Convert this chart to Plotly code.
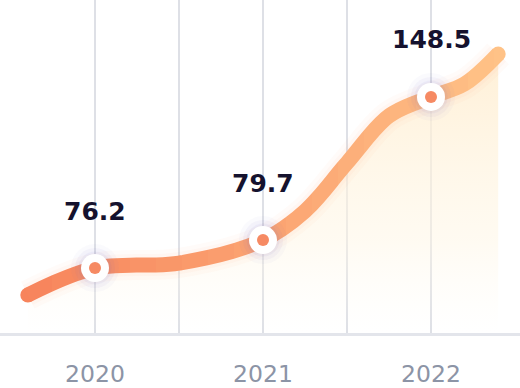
import plotly.graph_objects as go

# ---------------- data ----------------
years = [2020, 2021, 2022]
values = [76.2, 79.7, 148.5]
tick_vals = [2020, 2020.5, 2021, 2021.5, 2022]
tick_text = ["2020", "", "2021", "", "2022"]

# smooth trend curve (relative height, 0-100 scale)
curve_x = [2019.6, 2020, 2020.5, 2021, 2021.25, 2021.5, 2021.75, 2022, 2022.2, 2022.4]
curve_y = [11.4, 19.5, 21.0, 27.9, 36.6, 51.1, 65.2, 70.9, 74.8, 83.8]

# ---------------- style ----------------
X0, X1 = 2019.4345, 2022.5298
Y0, Y1 = 0, 100
N_STRIPS = 20
LINE_W = 15
C_LEFT = (247, 132, 92)
C_RIGHT = (255, 194, 135)
GRID = "#DEE0E6"


def grad_color(x):
    t = (x - curve_x[0]) / (curve_x[-1] - curve_x[0])
    t = max(0.0, min(1.0, t))
    r, g, b = (round(a + (b_ - a) * t) for a, b_ in zip(C_LEFT, C_RIGHT))
    return f"rgb({r},{g},{b})"


fig = go.Figure()

# area under the curve (main subplot)
fig.add_trace(go.Scatter(
    x=curve_x, y=curve_y, mode="lines",
    line=dict(shape="spline", width=0, color="rgba(0,0,0,0)", simplify=False),
    fill="tozeroy",
    fillgradient=dict(type="vertical", start=0, stop=80,
                      colorscale=[[0, "rgba(255,250,240,0)"],
                                  [0.35, "rgba(255,246,228,0.5)"],
                                  [1, "rgba(255,238,210,0.85)"]]),
    hoverinfo="skip", xaxis="x", yaxis="y"))

# soft glow below the line
for w, a in [(30, 0.04), (22, 0.05)]:
    fig.add_trace(go.Scatter(
        x=curve_x, y=curve_y, mode="lines",
        line=dict(shape="spline", width=w, color=f"rgba(250,150,110,{a})", simplify=False),
        hoverinfo="skip", xaxis="x", yaxis="y"))

# round caps
fig.add_trace(go.Scatter(
    x=[curve_x[0], curve_x[-1]], y=[curve_y[0], curve_y[-1]], mode="markers",
    marker=dict(size=LINE_W, color=[grad_color(curve_x[0]), grad_color(curve_x[-1])]),
    hoverinfo="skip", xaxis="x", yaxis="y"))

# gradient line: same curve drawn in narrow vertical strips, each in its own colour
sw = (X1 - X0) / N_STRIPS
layout_axes = {}
for k in range(N_STRIPS):
    ax = k + 2
    lo, hi = X0 + k * sw, X0 + (k + 1) * sw
    layout_axes[f"xaxis{ax}"] = dict(domain=[k / N_STRIPS, (k + 1) / N_STRIPS],
                                     range=[lo, hi], visible=False, anchor="y",
                                     fixedrange=True)
    fig.add_trace(go.Scatter(
        x=curve_x, y=curve_y, mode="lines",
        line=dict(shape="spline", width=LINE_W, color=grad_color((lo + hi) / 2), simplify=False),
        hoverinfo="skip", xaxis=f"x{ax}", yaxis="y"))

# point markers on top
top_ax = N_STRIPS + 2
layout_axes[f"xaxis{top_ax}"] = dict(domain=[0, 1], range=[X0, X1], visible=False,
                                     anchor="y", fixedrange=True)
pt_y = [curve_y[curve_x.index(yr)] for yr in years]
for s, col in [(48, "rgba(110,100,200,0.035)"), (40, "rgba(110,100,200,0.05)"),
               (33, "rgba(110,100,200,0.06)"), (28, "#FFFFFF"), (12, "#F68A63")]:
    fig.add_trace(go.Scatter(
        x=years, y=pt_y, mode="markers",
        marker=dict(size=s, color=col, line=dict(width=0)),
        hoverinfo="skip", xaxis=f"x{top_ax}", yaxis="y", cliponaxis=False))

# value labels
for yr, v, py in zip(years, values, pt_y):
    fig.add_annotation(x=yr, y=py, xref="x", yref="y", text=f"{v}", showarrow=False,
                       yshift=57,
                       font=dict(family="DejaVu Sans", size=25, color="#15122E", weight=700))

# fade the gridlines towards the top
for y0 in [0.55, 0.7, 0.82, 0.92]:
    fig.add_shape(type="rect", xref="paper", yref="paper", x0=0, x1=1, y0=y0, y1=1,
                  fillcolor="rgba(255,255,255,0.3)", line=dict(width=0), layer="between")

fig.update_layout(
    width=520, height=388,
    margin=dict(l=0, r=0, t=0, b=55),
    paper_bgcolor="white", plot_bgcolor="rgba(0,0,0,0)",
    showlegend=False, hovermode=False,
    xaxis=dict(range=[X0, X1], tickvals=tick_vals, ticktext=tick_text,
               showgrid=True, gridcolor=GRID, gridwidth=2,
               showline=True, linecolor="#E3E5EB", linewidth=3,
               ticks="", ticklabelstandoff=18, zeroline=False, fixedrange=True,
               tickfont=dict(family="DejaVu Sans", size=23.5, color="#8C94A6")),
    yaxis=dict(range=[Y0, Y1], visible=False, fixedrange=True),
    **layout_axes,
)

fig.write_html("out.html", config={"displayModeBar": False},
               post_script="document.body.style.margin='0';")
